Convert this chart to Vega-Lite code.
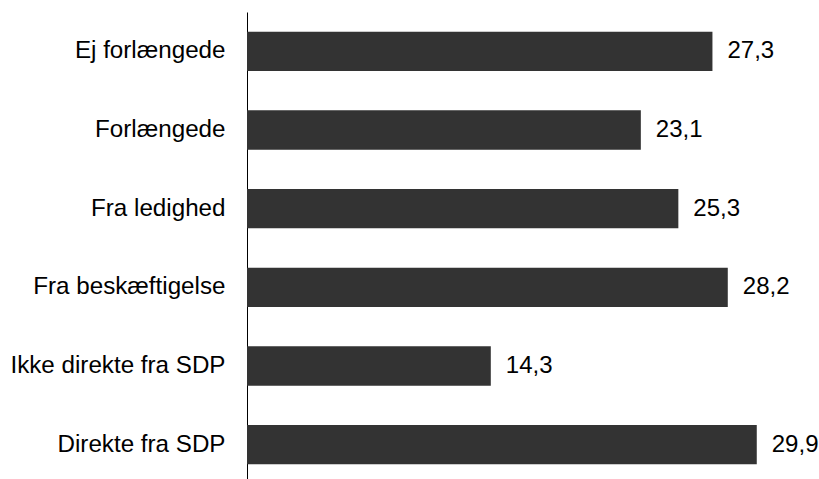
{
  "$schema": "https://vega.github.io/schema/vega-lite/v6.json",
  "autosize": {"type": "none"},
  "padding": {"left": 247, "top": 12, "right": 0, "bottom": 0},
  "width": 572,
  "height": 467,
  "background": "white",
  "config": {
    "view": {"stroke": null},
    "locale": {"number": {"decimal": ",", "thousands": ".", "grouping": [3], "currency": ["", " kr."]}},
    "font": "Liberation Sans"
  },
  "data": {
    "values": [
      {"kategori": "Ej forlængede", "vaerdi": 27.3},
      {"kategori": "Forlængede", "vaerdi": 23.1},
      {"kategori": "Fra ledighed", "vaerdi": 25.3},
      {"kategori": "Fra beskæftigelse", "vaerdi": 28.2},
      {"kategori": "Ikke direkte fra SDP", "vaerdi": 14.3},
      {"kategori": "Direkte fra SDP", "vaerdi": 29.9}
    ]
  },
  "encoding": {
    "y": {
      "field": "kategori",
      "type": "nominal",
      "sort": null,
      "scale": {"range": [0, 472], "paddingInner": 0.5, "paddingOuter": 0.25},
      "axis": {
        "title": null,
        "ticks": false,
        "domainColor": "#000000",
        "domainWidth": 1,
        "labelPadding": 22,
        "labelFontSize": 24.2,
        "labelColor": "#000000",
        "labelFont": "Liberation Sans",
        "labelLimit": 400
      }
    },
    "x": {
      "field": "vaerdi",
      "type": "quantitative",
      "scale": {"domain": [0, 33.55], "nice": false, "zero": true},
      "axis": null
    }
  },
  "layer": [
    {"mark": {"type": "bar", "color": "#333333"}},
    {
      "mark": {"type": "text", "align": "left", "baseline": "middle", "dx": 15, "fontSize": 24, "color": "#000000", "font": "Liberation Sans"},
      "encoding": {"text": {"field": "vaerdi", "type": "quantitative", "format": ".1f"}}
    }
  ]
}
